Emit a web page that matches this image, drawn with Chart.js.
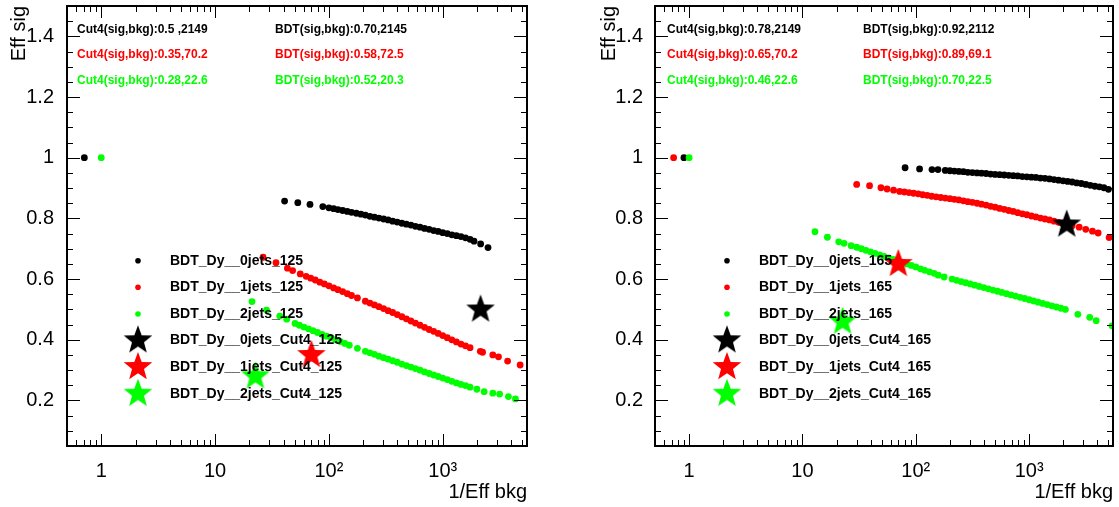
<!DOCTYPE html>
<html>
<head>
<meta charset="utf-8">
<script src="https://cdn.jsdelivr.net/npm/chart.js@4.4.0/dist/chart.umd.min.js"></script>
<style>
  body { margin: 0; background: #fff; width: 1119px; height: 507px; overflow: hidden; position: relative; }
  canvas { position: absolute; top: 0; }
  #c125 { left: 0; width: 560px; height: 507px; }
  #c165 { left: 560px; width: 559px; height: 507px; }
</style>
</head>
<body>
<canvas id="c125" width="560" height="507"></canvas>
<canvas id="c165" width="559" height="507"></canvas>
<script>
// ---- values ----
var labels125 = ['BDT_Dy__0jets_125', 'BDT_Dy__1jets_125', 'BDT_Dy__2jets_125',
                 'BDT_Dy__0jets_Cut4_125', 'BDT_Dy__1jets_Cut4_125', 'BDT_Dy__2jets_Cut4_125'];
var labels165 = ['BDT_Dy__0jets_165', 'BDT_Dy__1jets_165', 'BDT_Dy__2jets_165',
                 'BDT_Dy__0jets_Cut4_165', 'BDT_Dy__1jets_Cut4_165', 'BDT_Dy__2jets_Cut4_165'];

// 125 : 0 jets
var bkg0_125 = [0.71, 40.8, 53.3, 68.2, 88.4,
  100, 110, 120, 132, 145, 158, 174, 191, 209, 229, 251, 275, 302, 331, 363, 398, 437, 479, 525, 575,
  631, 692, 759, 832, 912, 1000, 1096, 1202, 1318, 1445, 1585, 1738, 1884, 2153, 2500];
var sig0_125 = [1.0, 0.857, 0.852, 0.846, 0.839,
  0.835, 0.832, 0.829, 0.826, 0.823, 0.820, 0.817, 0.814, 0.811, 0.807, 0.804, 0.801, 0.798, 0.795, 0.791, 0.788, 0.784, 0.781, 0.778, 0.774,
  0.771, 0.767, 0.764, 0.760, 0.757, 0.753, 0.750, 0.746, 0.743, 0.740, 0.736, 0.731, 0.725, 0.716, 0.704];
// 125 : 1 jet
var bkg1_125 = [26.4, 34.3, 43.2, 48.0, 56.0,
  63.1, 69.2, 75.9, 83.2, 91.2, 100, 110, 120, 132, 145, 158, 178,
  209, 229, 251, 275, 302, 331, 363, 398, 437, 479, 525, 575, 631, 692, 759, 832, 912, 1000, 1096, 1202, 1318, 1445, 1585, 1738,
  2138, 2239, 2754, 3090, 3715, 4786];
var sig1_125 = [0.672, 0.654, 0.636, 0.628, 0.617,
  0.609, 0.603, 0.597, 0.590, 0.584, 0.578, 0.571, 0.565, 0.559, 0.552, 0.546, 0.538,
  0.527, 0.521, 0.515, 0.509, 0.503, 0.496, 0.490, 0.483, 0.476, 0.469, 0.462, 0.455, 0.448, 0.441, 0.434, 0.428, 0.421, 0.414, 0.407, 0.400, 0.393, 0.386, 0.380, 0.374,
  0.362, 0.359, 0.350, 0.344, 0.330, 0.317];
// 125 : 2 jets
var bkg2_125 = [1.0, 21.1, 28.3, 37.0, 42.6, 50.4,
  55.0, 60.3, 66.1, 72.4, 79.4, 87.1, 95.5, 105, 115, 126, 138, 151, 178,
  209, 229, 251, 275, 302, 331, 363, 398, 437, 479, 525, 575, 631, 692, 759, 832, 912, 1000, 1096, 1202, 1318, 1445, 1585, 1738,
  1995, 2312, 2754, 3162, 3776, 4355];
var sig2_125 = [1.0, 0.526, 0.498, 0.478, 0.468, 0.454,
  0.448, 0.442, 0.436, 0.430, 0.424, 0.418, 0.412, 0.406, 0.400, 0.394, 0.388, 0.382, 0.372,
  0.362, 0.357, 0.352, 0.346, 0.341, 0.336, 0.331, 0.326, 0.320, 0.315, 0.310, 0.305, 0.300, 0.294, 0.289, 0.284, 0.279, 0.274, 0.269, 0.263, 0.258, 0.253, 0.249, 0.244,
  0.237, 0.229, 0.224, 0.221, 0.213, 0.205];

// 165 : 0 jets
var bkg0_165 = [0.90, 80.5, 108, 139, 157, 182,
  200, 219, 240, 263, 288, 316, 347, 380, 417, 457, 501, 550, 603, 661, 724, 794, 871, 955, 1047, 1148,
  1259, 1380, 1514, 1660, 1820, 1995, 2188, 2399, 2630, 2884, 3162, 3467, 3802, 4169, 4571, 5012];
var sig0_165 = [1.0, 0.967, 0.963, 0.961, 0.961, 0.958,
  0.957, 0.956, 0.955, 0.954, 0.952, 0.951, 0.950, 0.949, 0.948, 0.946, 0.945, 0.944, 0.943, 0.942, 0.941, 0.940, 0.938, 0.937, 0.936, 0.935,
  0.933, 0.932, 0.930, 0.928, 0.926, 0.924, 0.922, 0.920, 0.917, 0.915, 0.912, 0.909, 0.906, 0.904, 0.901, 0.896];
// 165 : 1 jet
var bkg1_165 = [0.73, 30.1, 39.1, 49.3, 55.8, 63.7, 72.1,
  79.4, 87.1, 95.5, 105, 115, 126, 138, 151, 166, 182, 200, 219, 240, 263, 288, 316, 347, 380, 417, 457,
  501, 550, 603, 661, 724, 794, 871, 955, 1047, 1148, 1259, 1380, 1514, 1660, 1820, 1995, 2188, 2399,
  2767, 3162, 3622, 4064, 5082];
var sig1_165 = [1.0, 0.912, 0.908, 0.901, 0.897, 0.893, 0.889,
  0.887, 0.885, 0.883, 0.881, 0.878, 0.876, 0.873, 0.871, 0.869, 0.867, 0.865, 0.863, 0.861, 0.858, 0.855, 0.853, 0.850, 0.847, 0.844, 0.840,
  0.837, 0.833, 0.830, 0.826, 0.823, 0.819, 0.815, 0.812, 0.808, 0.805, 0.801, 0.798, 0.795, 0.791, 0.787, 0.784, 0.780, 0.776,
  0.771, 0.764, 0.758, 0.752, 0.737];
// 165 : 2 jets
var bkg2_165 = [1.0, 12.9, 16.6, 20.9, 23.3, 26.9, 30.1,
  33.1, 36.3, 39.8, 43.7, 47.9, 52.5, 57.5, 63.1, 69.2, 75.9, 83.2, 91.2, 100, 110, 120, 132, 145, 158, 178,
  209, 229, 251, 275, 302, 331, 363, 398, 437, 479, 525, 575, 631, 692, 759, 832, 912, 1000, 1096, 1202, 1318, 1445, 1585, 1738, 1905, 2089,
  2692, 3428, 3908, 5400];
var sig2_165 = [1.0, 0.756, 0.738, 0.723, 0.718, 0.710, 0.705,
  0.700, 0.695, 0.690, 0.685, 0.680, 0.675, 0.670, 0.665, 0.660, 0.655, 0.650, 0.645, 0.640, 0.634, 0.629, 0.624, 0.619, 0.613, 0.607,
  0.600, 0.596, 0.592, 0.588, 0.584, 0.580, 0.576, 0.572, 0.568, 0.564, 0.560, 0.556, 0.552, 0.548, 0.544, 0.540, 0.536, 0.532, 0.528, 0.524, 0.520, 0.516, 0.512, 0.508, 0.504, 0.500,
  0.484, 0.474, 0.463, 0.446];

// Cut4 working points (stars)
var cutBkg125 = [2149, 70.2, 22.6];
var cutSig125 = [0.50, 0.35, 0.28];
var cutBkg165 = [2149, 70.2, 22.6];
var cutSig165 = [0.78, 0.65, 0.46];

// text boxes at the top of each pad
var cutNotes125 = ['Cut4(sig,bkg):0.5 ,2149', 'Cut4(sig,bkg):0.35,70.2', 'Cut4(sig,bkg):0.28,22.6'];
var bdtNotes125 = ['BDT(sig,bkg):0.70,2145', 'BDT(sig,bkg):0.58,72.5', 'BDT(sig,bkg):0.52,20.3'];
var cutNotes165 = ['Cut4(sig,bkg):0.78,2149', 'Cut4(sig,bkg):0.65,70.2', 'Cut4(sig,bkg):0.46,22.6'];
var bdtNotes165 = ['BDT(sig,bkg):0.92,2112', 'BDT(sig,bkg):0.89,69.1', 'BDT(sig,bkg):0.70,22.5'];

var xTicks = [1, 10, 100, 1000];
var xTickLabels = ['1', '10', '10\u00B2', '10\u00B3'];
var yTicks = [0.2, 0.4, 0.6, 0.8, 1, 1.2, 1.4];
var colors = ['#000000', '#ff0000', '#00ff00'];

Chart.defaults.font.family = '"Liberation Sans", Arial, sans-serif';
Chart.defaults.color = '#000';

function pts(xs, ys) {
  return xs.map(function (x, i) { return { x: x, y: ys[i] }; });
}

// filled five pointed star, like ROOT marker 29
function starImg(color, r) {
  var c = document.createElement('canvas');
  var s = Math.ceil(2 * r + 2);
  c.width = s; c.height = s;
  var g = c.getContext('2d');
  g.fillStyle = color;
  g.beginPath();
  for (var k = 0; k < 10; k++) {
    var rr = k % 2 ? r * 0.42 : r;
    var a = -Math.PI / 2 + k * Math.PI / 5;
    g.lineTo(s / 2 + rr * Math.cos(a), s / 2 + rr * Math.sin(a));
  }
  g.closePath();
  g.fill();
  return c;
}
var stars = colors.map(function (c) { return starImg(c, 15); });

// frame, inward ticks, text boxes and legend, drawn over the markers
var rootPad = {
  id: 'rootPad',
  afterDatasetsDraw: function (chart, args, o) {
    var ctx = chart.ctx, a = chart.chartArea;
    var xs = chart.scales.x, ys = chart.scales.y;
    ctx.save();
    ctx.strokeStyle = '#000';
    ctx.lineWidth = 1;
    ctx.beginPath();
    for (var e = -1; e <= 3; e++) {
      for (var m = 1; m <= 9; m++) {
        var v = m * Math.pow(10, e);
        if (v <= xs.min || v >= xs.max) continue;
        var px = Math.round(xs.getPixelForValue(v)) + 0.5;
        var len = m === 1 ? 12 : 6;
        ctx.moveTo(px, a.bottom); ctx.lineTo(px, a.bottom - len);
        ctx.moveTo(px, a.top); ctx.lineTo(px, a.top + len);
      }
    }
    for (var k = 2; k <= 29; k++) {
      var py = Math.round(ys.getPixelForValue(k * 0.05)) + 0.5;
      var l2 = k % 4 === 0 ? 13 : 6;
      ctx.moveTo(a.left, py); ctx.lineTo(a.left + l2, py);
      ctx.moveTo(a.right, py); ctx.lineTo(a.right - l2, py);
    }
    ctx.stroke();
    ctx.lineWidth = 2;
    ctx.strokeRect(a.left, a.top, a.right - a.left, a.bottom - a.top);

    // text boxes
    ctx.font = 'bold 12px "Liberation Sans", Arial, sans-serif';
    ctx.textBaseline = 'middle';
    ctx.textAlign = 'left';
    var noteRows = [29.5, 55, 81];
    for (var i = 0; i < 3; i++) {
      ctx.fillStyle = colors[i];
      ctx.fillText(o.cut[i], o.cutX, noteRows[i]);
      ctx.fillText(o.bdt[i], o.bdtX, noteRows[i]);
    }

    // legend
    var legRows = [260.7, 287.3, 314, 340.3, 367, 393.7];
    ctx.font = 'bold 14px "Liberation Sans", Arial, sans-serif';
    chart.data.datasets.forEach(function (ds, n) {
      var y = legRows[n];
      if (n < 3) {
        ctx.fillStyle = colors[n];
        ctx.beginPath();
        ctx.arc(o.legX, y, 2.8, 0, Math.PI * 2);
        ctx.fill();
      } else {
        var img = stars[n - 3];
        ctx.drawImage(img, o.legX - img.width / 2, y - img.height / 2);
      }
      ctx.fillStyle = '#000';
      ctx.fillText(ds.label, o.legTextX, y);
    });
    ctx.restore();
  }
};

function makePad(id, names, series, cutBkg, cutSig, pad) {
  var datasets = [];
  series.forEach(function (s, i) {
    datasets.push({
      label: names[i],
      data: pts(s[0], s[1]),
      backgroundColor: colors[i],
      borderColor: colors[i],
      pointRadius: 3.4,
      pointBorderWidth: 0,
      order: 6 - i,
      clip: 0
    });
  });
  for (var j = 0; j < 3; j++) {
    datasets.push({
      label: names[3 + j],
      data: [{ x: cutBkg[j], y: cutSig[j] }],
      pointStyle: stars[j],
      pointRadius: 15,
      order: 3 - j,
      clip: 0
    });
  }

  return new Chart(document.getElementById(id), {
    type: 'scatter',
    data: { datasets: datasets },
    plugins: [rootPad],
    options: {
      responsive: false,
      animation: false,
      devicePixelRatio: 1,
      events: [],
      layout: { autoPadding: false, padding: { left: 0, top: 6, right: pad.right, bottom: 0 } },
      plugins: {
        legend: { display: false },
        tooltip: { enabled: false },
        rootPad: pad
      },
      scales: {
        x: {
          type: 'logarithmic',
          min: 0.5,
          max: 5500,
          grid: { display: false },
          border: { display: false },
          afterBuildTicks: function (sc) {
            sc.ticks = xTicks.map(function (v) { return { value: v }; });
          },
          afterFit: function (sc) {
            sc.height = 61;
            sc.paddingLeft = 0; sc.paddingRight = 0;
          },
          ticks: {
            autoSkip: false,
            maxRotation: 0,
            padding: 5,
            font: { size: 20 },
            callback: function (v, i) { return xTickLabels[i]; }
          },
          title: {
            display: true,
            text: '1/Eff bkg',
            align: 'end',
            font: { size: 20 },
            padding: { top: 0, bottom: 3 }
          }
        },
        y: {
          min: 0.05,
          max: 1.5,
          grid: { display: false },
          border: { display: false },
          afterBuildTicks: function (sc) {
            sc.ticks = yTicks.map(function (v) { return { value: v }; });
          },
          afterFit: function (sc) {
            sc.width = pad.yWidth;
            sc.paddingTop = 0; sc.paddingBottom = 0;
          },
          ticks: {
            padding: pad.yPad,
            font: { size: 20 },
            callback: function (v) { return String(Math.round(v * 10) / 10); }
          },
          title: {
            display: true,
            text: 'Eff sig',
            align: 'end',
            font: { size: 20 },
            padding: { top: pad.titlePad, bottom: 0 }
          }
        }
      }
    }
  });
}

makePad('c125', labels125,
  [[bkg0_125, sig0_125], [bkg1_125, sig1_125], [bkg2_125, sig2_125]],
  cutBkg125, cutSig125,
  { right: 33, yWidth: 67, yPad: 5, titlePad: 7,
    cut: cutNotes125, bdt: bdtNotes125, cutX: 77, bdtX: 275, legX: 138, legTextX: 170 });

makePad('c165', labels165,
  [[bkg0_165, sig0_165], [bkg1_165, sig1_165], [bkg2_165, sig2_165]],
  cutBkg165, cutSig165,
  { right: 6, yWidth: 95, yPad: 4, titlePad: 37,
    cut: cutNotes165, bdt: bdtNotes165, cutX: 107, bdtX: 303, legX: 167, legTextX: 199 });
</script>
</body>
</html>
